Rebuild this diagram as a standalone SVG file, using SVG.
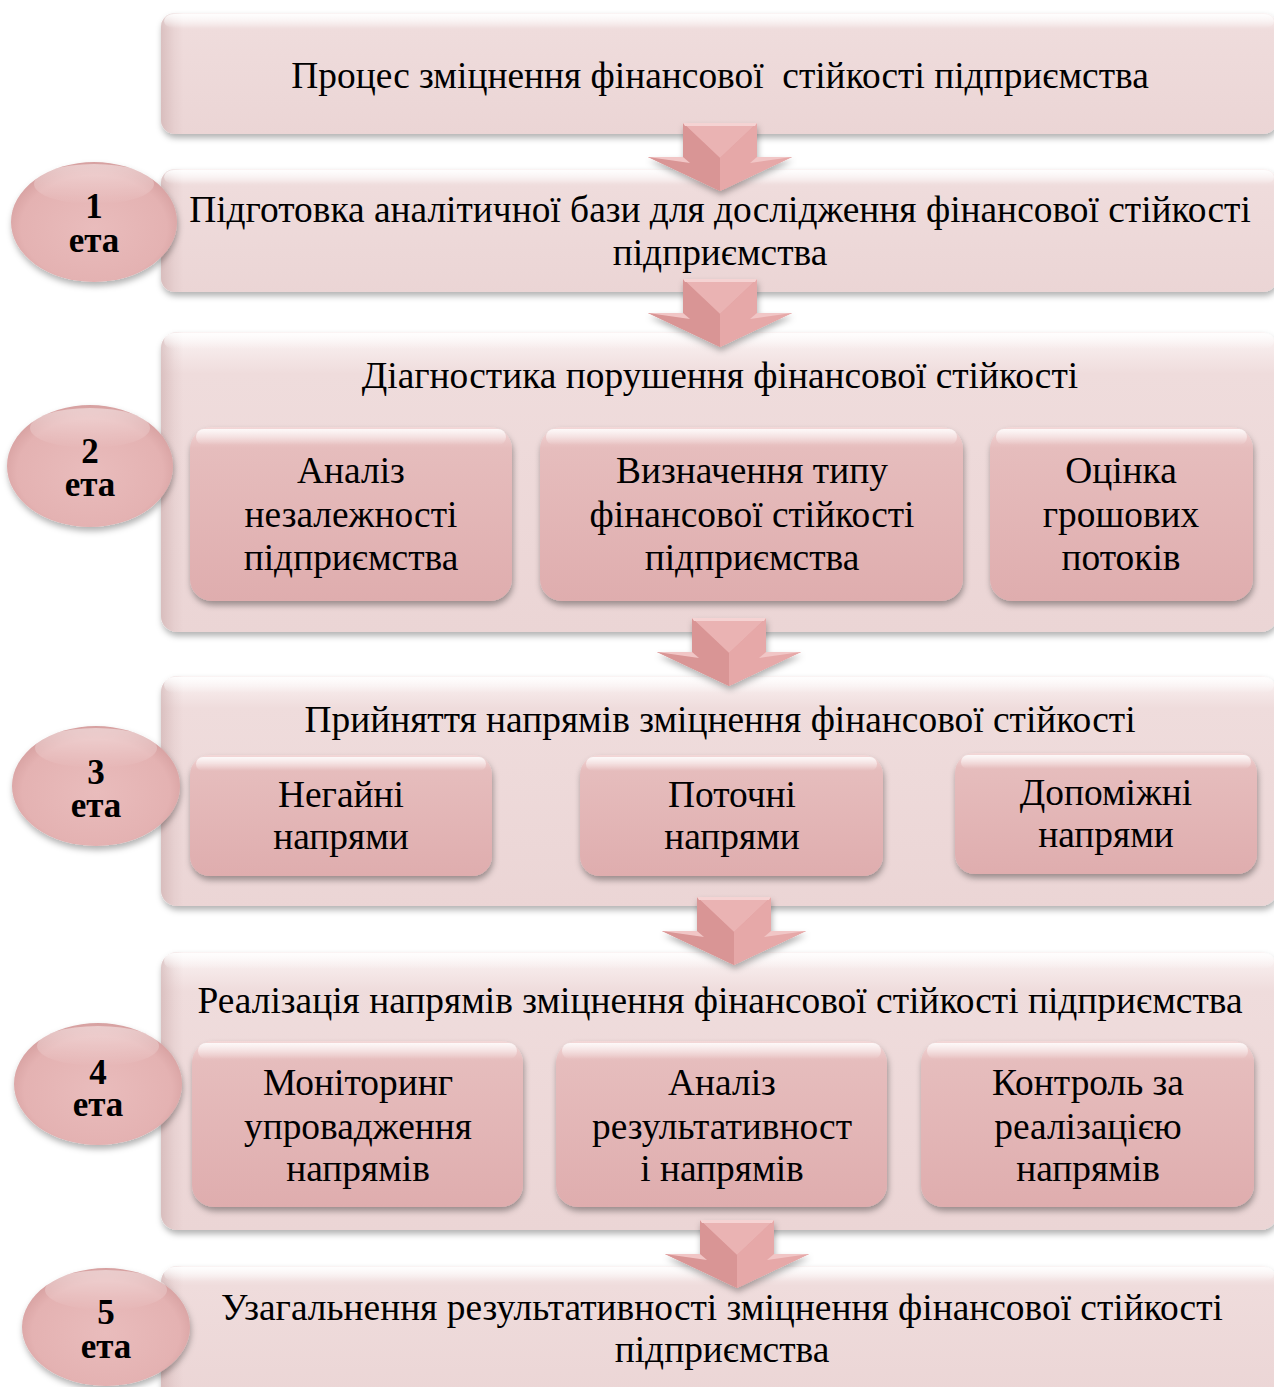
<svg xmlns="http://www.w3.org/2000/svg" width="1274" height="1387" viewBox="0 0 1274 1387">
<style>
.t{font-family:"Liberation Serif","Times New Roman",serif;font-size:37.4px;fill:#000;text-anchor:middle}
.b{font-family:"Liberation Serif","Times New Roman",serif;font-size:35px;font-weight:bold;fill:#000;text-anchor:middle}
.outer{fill:url(#og);filter:url(#sh)}
.ol{fill:url(#ogl)}
.ot{fill:url(#ogt)}
.inner{fill:url(#ig);filter:url(#sh2)}
.ih{fill:url(#ihl)}
.ell{fill:url(#eg);filter:url(#sh)}
.eh{fill:url(#ehl)}
</style>
<defs>
<linearGradient id="og" x1="0" y1="0" x2="0" y2="1">
<stop offset="0" stop-color="#fbf4f4"/><stop offset="0.14" stop-color="#efdcdc"/><stop offset="1" stop-color="#ebd5d5"/>
</linearGradient>
<linearGradient id="ogl" x1="0" y1="0" x2="1" y2="0">
<stop offset="0" stop-color="#c9a9a9" stop-opacity="0.55"/><stop offset="0.012" stop-color="#c9a9a9" stop-opacity="0.15"/><stop offset="0.02" stop-color="#c9a9a9" stop-opacity="0"/>
</linearGradient>
<linearGradient id="ogt" x1="0" y1="0" x2="0" y2="1">
<stop offset="0" stop-color="#ffffff" stop-opacity="0.9"/><stop offset="1" stop-color="#ffffff" stop-opacity="0"/>
</linearGradient>
<linearGradient id="ig" x1="0" y1="0" x2="0" y2="1">
<stop offset="0" stop-color="#f3d8d8"/><stop offset="0.12" stop-color="#e6bdbd"/><stop offset="1" stop-color="#dfadae"/>
</linearGradient>
<linearGradient id="ihl" x1="0" y1="0" x2="0" y2="1">
<stop offset="0" stop-color="#ffffff" stop-opacity="0.85"/><stop offset="1" stop-color="#ffffff" stop-opacity="0"/>
</linearGradient>
<radialGradient id="eg" cx="0.5" cy="0.55" r="0.55">
<stop offset="0" stop-color="#e9bcbc"/><stop offset="0.8" stop-color="#e4b2b2"/><stop offset="1" stop-color="#d6a0a0"/>
</radialGradient>
<linearGradient id="ehl" x1="0" y1="0" x2="0" y2="1">
<stop offset="0" stop-color="#ffffff" stop-opacity="0.45"/><stop offset="1" stop-color="#ffffff" stop-opacity="0"/>
</linearGradient>
<filter id="sh" x="-10%" y="-10%" width="120%" height="130%">
<feDropShadow dx="1" dy="4" stdDeviation="3" flood-color="#000" flood-opacity="0.3"/>
</filter>
<filter id="sh2" x="-10%" y="-10%" width="120%" height="130%">
<feDropShadow dx="1" dy="4" stdDeviation="3" flood-color="#000" flood-opacity="0.35"/>
</filter>
<g id="arrow">
<polygon points="-37,0 37,0 37,34 72,34 0,68 -72,34 -37,34" fill="#e2a0a0" filter="url(#sh)"/>
<polygon points="-37,0 37,0 0,35" fill="#eab3b3"/>
<polygon points="-37,0 0,35 0,68 -72,34 -37,34" fill="#d99595"/>
<polygon points="37,0 0,35 0,68 72,34 37,34" fill="#e6a8a8"/>
<polygon points="-72,34 -37,34 -30,40" fill="#f1c6c6"/>
<polygon points="72,34 37,34 30,40" fill="#f1c6c6"/>
<polygon points="-37,0 37,0 35,3 -35,3" fill="#f5d3d3"/>
</g>
</defs>

<rect width="1274" height="1387" fill="#ffffff"/>

<g id="stage0">
<rect class="outer" x="161" y="13" width="1116" height="121" rx="14"/>
<rect class="ol" x="161" y="13" width="1116" height="121" rx="14"/>
<rect class="ot" x="164" y="14" width="1110" height="14" rx="10"/>
<text class="t" x="720" y="88" style="white-space:pre">Процес зміцнення фінансової  стійкості підприємства</text>
</g>

<g id="stage1">
<rect class="outer" x="161" y="169" width="1116" height="123" rx="14"/>
<rect class="ol" x="161" y="169" width="1116" height="123" rx="14"/>
<rect class="ot" x="164" y="170" width="1110" height="14" rx="10"/>
<text class="t" x="720" y="222">Підготовка аналітичної бази для дослідження фінансової стійкості</text>
<text class="t" x="720" y="265">підприємства</text>
</g>

<g id="stage2">
<rect class="outer" x="161" y="332" width="1116" height="300" rx="16"/>
<rect class="ol" x="161" y="332" width="1116" height="300" rx="16"/>
<rect class="ot" x="164" y="333" width="1110" height="16" rx="10"/>
<text class="t" x="720" y="388">Діагностика порушення фінансової стійкості</text>
</g>
<g id="stage2a">
<rect class="inner" x="190" y="427" width="322" height="174" rx="22"/>
<rect class="ih" x="196" y="429" width="310" height="16" rx="8"/>
<text class="t" x="351" y="483">Аналіз</text>
<text class="t" x="351" y="527">незалежності</text>
<text class="t" x="351" y="570">підприємства</text>
</g>
<g id="stage2b">
<rect class="inner" x="540" y="427" width="423" height="174" rx="22"/>
<rect class="ih" x="546" y="429" width="411" height="16" rx="8"/>
<text class="t" x="752" y="483">Визначення типу</text>
<text class="t" x="752" y="527">фінансової стійкості</text>
<text class="t" x="752" y="570">підприємства</text>
</g>
<g id="stage2c">
<rect class="inner" x="990" y="427" width="263" height="174" rx="22"/>
<rect class="ih" x="996" y="429" width="251" height="16" rx="8"/>
<text class="t" x="1121" y="483">Оцінка</text>
<text class="t" x="1121" y="527">грошових</text>
<text class="t" x="1121" y="570">потоків</text>
</g>

<g id="stage3">
<rect class="outer" x="161" y="676" width="1116" height="230" rx="16"/>
<rect class="ol" x="161" y="676" width="1116" height="230" rx="16"/>
<rect class="ot" x="164" y="677" width="1110" height="16" rx="10"/>
<text class="t" x="720" y="732">Прийняття напрямів зміцнення фінансової стійкості</text>
</g>
<g id="stage3a">
<rect class="inner" x="190" y="755" width="302" height="121" rx="20"/>
<rect class="ih" x="196" y="757" width="290" height="14" rx="7"/>
<text class="t" x="341" y="807">Негайні</text>
<text class="t" x="341" y="849">напрями</text>
</g>
<g id="stage3b">
<rect class="inner" x="580" y="755" width="303" height="121" rx="20"/>
<rect class="ih" x="586" y="757" width="291" height="14" rx="7"/>
<text class="t" x="732" y="807">Поточні</text>
<text class="t" x="732" y="849">напрями</text>
</g>
<g id="stage3c">
<rect class="inner" x="955" y="753" width="302" height="121" rx="20"/>
<rect class="ih" x="961" y="755" width="290" height="14" rx="7"/>
<text class="t" x="1106" y="805">Допоміжні</text>
<text class="t" x="1106" y="847">напрями</text>
</g>

<g id="stage4">
<rect class="outer" x="161" y="952" width="1116" height="278" rx="16"/>
<rect class="ol" x="161" y="952" width="1116" height="278" rx="16"/>
<rect class="ot" x="164" y="953" width="1110" height="16" rx="10"/>
<text class="t" x="720" y="1013">Реалізація напрямів зміцнення фінансової стійкості підприємства</text>
</g>
<g id="stage4a">
<rect class="inner" x="192" y="1041" width="331" height="166" rx="22"/>
<rect class="ih" x="198" y="1043" width="319" height="16" rx="8"/>
<text class="t" x="358" y="1095">Моніторинг</text>
<text class="t" x="358" y="1139">упровадження</text>
<text class="t" x="358" y="1181">напрямів</text>
</g>
<g id="stage4b">
<rect class="inner" x="556" y="1041" width="331" height="166" rx="22"/>
<rect class="ih" x="562" y="1043" width="319" height="16" rx="8"/>
<text class="t" x="722" y="1095">Аналіз</text>
<text class="t" x="722" y="1139">результативност</text>
<text class="t" x="722" y="1181">і напрямів</text>
</g>
<g id="stage4c">
<rect class="inner" x="921" y="1041" width="333" height="166" rx="22"/>
<rect class="ih" x="927" y="1043" width="321" height="16" rx="8"/>
<text class="t" x="1088" y="1095">Контроль за</text>
<text class="t" x="1088" y="1139">реалізацією</text>
<text class="t" x="1088" y="1181">напрямів</text>
</g>

<g id="stage5">
<rect class="outer" x="161" y="1266" width="1116" height="140" rx="16"/>
<rect class="ol" x="161" y="1266" width="1116" height="140" rx="16"/>
<rect class="ot" x="164" y="1267" width="1110" height="14" rx="10"/>
<text class="t" x="722" y="1320">Узагальнення результативності зміцнення фінансової стійкості</text>
<text class="t" x="722" y="1362">підприємства</text>
</g>

<g id="connectors">
<use href="#arrow" transform="translate(720,123)"/>
<use href="#arrow" transform="translate(720,279)"/>
<use href="#arrow" transform="translate(729,618)"/>
<use href="#arrow" transform="translate(734,897)"/>
<use href="#arrow" transform="translate(737,1220)"/>
</g>

<g id="badge1">
<ellipse class="ell" cx="94" cy="222" rx="83" ry="60"/>
<ellipse class="eh" cx="94" cy="184" rx="60" ry="20"/>
<text class="b" x="94" y="218">1<tspan x="94" y="252">ета</tspan></text>
</g>
<g id="badge2">
<ellipse class="ell" cx="90" cy="466" rx="83" ry="61"/>
<ellipse class="eh" cx="90" cy="428" rx="60" ry="20"/>
<text class="b" x="90" y="463">2<tspan x="90" y="496">ета</tspan></text>
</g>
<g id="badge3">
<ellipse class="ell" cx="96" cy="786" rx="84" ry="60"/>
<ellipse class="eh" cx="96" cy="748" rx="61" ry="20"/>
<text class="b" x="96" y="784">3<tspan x="96" y="817">ета</tspan></text>
</g>
<g id="badge4">
<ellipse class="ell" cx="98" cy="1084" rx="84" ry="61"/>
<ellipse class="eh" cx="98" cy="1046" rx="61" ry="20"/>
<text class="b" x="98" y="1084">4<tspan x="98" y="1116">ета</tspan></text>
</g>
<g id="badge5">
<ellipse class="ell" cx="106" cy="1327" rx="84" ry="59"/>
<ellipse class="eh" cx="106" cy="1290" rx="61" ry="20"/>
<text class="b" x="106" y="1324">5<tspan x="106" y="1358">ета</tspan></text>
</g>
</svg>
